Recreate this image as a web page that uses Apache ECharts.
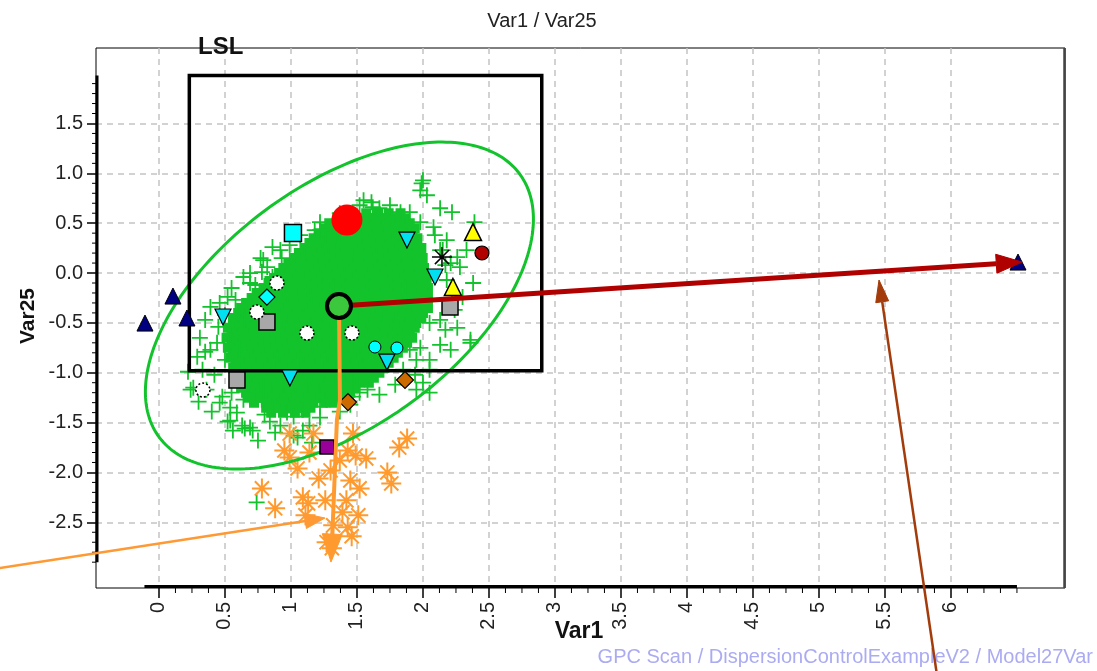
<!DOCTYPE html>
<html>
<head>
<meta charset="utf-8">
<title>Var1 / Var25</title>
<script src="https://cdn.jsdelivr.net/npm/echarts@6/dist/echarts.min.js"></script>
<style>
  html, body { margin: 0; padding: 0; background: #ffffff; }
  #chart { width: 1097px; height: 671px; }
</style>
</head>
<body>
<div id="chart"></div>
<script>
// ---- axis extents and tick labels ----
const X_RANGE = [-0.477, 6.864];
const Y_RANGE = [-3.159, 2.257];
const xTickValues = [0, 0.5, 1, 1.5, 2, 2.5, 3, 3.5, 4, 4.5, 5, 5.5, 6];
const yTickValues = [-2.5, -2, -1.5, -1, -0.5, 0, 0.5, 1, 1.5];
// extent of the observations, drawn as the heavy axis strokes
const xAxisSpan = [-0.11, 6.50];
const yAxisSpan = [-2.90, 1.98];
// minor tick spacing along each axis
const xMinorStep = 0.125;
const yMinorStep = 0.1;

// ---- specification box (LSL) : [x0, y0, x1, y1] ----
const lslBox = [0.23, -0.98, 2.90, 1.98];

// ---- confidence ellipse of the reference population ----
const ellipseCenter = [1.367, -0.326];
const ellipseAxes = [1.93, 1.06];
const ellipseAngleDeg = 50.85;

// ---- reference population: dense core, one row per Var25 level ----
const coreRows = [
  [0.55, [1.39, 1.47, 1.57, 1.66, 1.74, 1.83]],
  [0.45, [1.29, 1.38, 1.48, 1.56, 1.65, 1.75, 1.83, 1.90]],
  [0.35, [1.21, 1.30, 1.39, 1.47, 1.57, 1.66, 1.74, 1.84, 1.92]],
  [0.25, [1.14, 1.23, 1.31, 1.41, 1.50, 1.58, 1.68, 1.77, 1.86, 1.95]],
  [0.15, [1.06, 1.15, 1.24, 1.33, 1.41, 1.51, 1.60, 1.69, 1.78, 1.87, 1.96]],
  [0.05, [0.98, 1.07, 1.16, 1.25, 1.34, 1.43, 1.51, 1.61, 1.70, 1.79, 1.88, 1.97]],
  [-0.05, [0.91, 1.00, 1.09, 1.18, 1.27, 1.36, 1.45, 1.54, 1.63, 1.72, 1.81, 1.90, 1.99]],
  [-0.15, [0.83, 0.92, 1.01, 1.10, 1.19, 1.28, 1.37, 1.46, 1.55, 1.64, 1.73, 1.82, 1.91, 2.00]],
  [-0.25, [0.74, 0.83, 0.92, 1.01, 1.10, 1.19, 1.28, 1.37, 1.46, 1.55, 1.64, 1.73, 1.82, 1.91, 2.00]],
  [-0.35, [0.66, 0.75, 0.84, 0.93, 1.02, 1.11, 1.20, 1.29, 1.38, 1.47, 1.56, 1.65, 1.74, 1.83, 1.92, 2.00]],
  [-0.45, [0.60, 0.69, 0.78, 0.87, 0.96, 1.05, 1.14, 1.23, 1.32, 1.41, 1.50, 1.59, 1.68, 1.77, 1.86, 1.95]],
  [-0.55, [0.56, 0.65, 0.74, 0.83, 0.92, 1.01, 1.10, 1.19, 1.28, 1.37, 1.46, 1.55, 1.64, 1.73, 1.82, 1.90]],
  [-0.65, [0.55, 0.64, 0.73, 0.82, 0.91, 1.00, 1.09, 1.18, 1.27, 1.36, 1.45, 1.54, 1.63, 1.72, 1.81, 1.88]],
  [-0.75, [0.56, 0.65, 0.74, 0.83, 0.92, 1.01, 1.10, 1.19, 1.28, 1.37, 1.46, 1.55, 1.64, 1.73, 1.81]],
  [-0.85, [0.58, 0.67, 0.76, 0.85, 0.94, 1.03, 1.12, 1.21, 1.30, 1.39, 1.48, 1.57, 1.66, 1.74]],
  [-0.95, [0.60, 0.69, 0.78, 0.87, 0.96, 1.05, 1.14, 1.23, 1.32, 1.41, 1.50, 1.59, 1.67]],
  [-1.05, [0.62, 0.71, 0.80, 0.89, 0.98, 1.07, 1.16, 1.25, 1.34, 1.43, 1.52, 1.59]],
  [-1.15, [0.66, 0.75, 0.84, 0.93, 1.02, 1.11, 1.20, 1.29, 1.38, 1.45]],
  [-1.25, [0.72, 0.81, 0.90, 0.99, 1.08, 1.17, 1.26, 1.33]],
  [-1.35, [0.85, 0.94, 1.03, 1.11]]
];

// ---- reference population: scattered observations around the core ----
const clusterEdge = [
  [0.92,0.23],[1.18,0.43],[1.26,0.38],[0.77,0.15],[0.69,0.00],[0.82,0.06],[0.64,-0.04],[0.86,-0.04],
  [1.35,0.41],[1.99,0.90],[2.03,0.78],[1.61,0.71],[1.52,0.68],[1.67,0.65],[2.13,0.65],[2.22,0.61],
  [1.90,0.61],[2.39,0.51],[2.08,0.46],[2.18,0.33],[2.33,0.23],[2.26,0.16],[2.15,0.23],[2.21,0.10],
  [2.28,0.06],[2.38,-0.10],[2.30,-0.24],[2.36,-0.70],[2.21,-0.77],[2.05,-0.97],[2.00,-1.10],[1.90,-0.77],
  [1.85,-0.97],[0.39,-0.34],[0.29,-0.84],[0.33,-0.97],[0.44,-0.70],[0.52,-0.24],[0.79,0.13],[0.86,0.26],
  [1.55,0.73],[1.62,0.66],[1.22,0.43],[0.26,-1.15],[0.48,-1.24],[0.54,-1.35],[0.55,-1.20],[0.64,-1.27],
  [0.52,-1.49],[0.56,-1.58],[0.69,-1.55],[0.71,-1.58],[0.86,-1.34],[0.97,-1.40],[1.09,-1.37],[1.02,-1.44],
  [1.09,-1.58],[1.27,-1.27],[0.61,-0.77],[0.45,-0.54],[2.26,-0.55],[2.36,-0.67],[2.13,-0.47],[2.05,-0.50],
  [1.98,-0.75],[1.95,-0.87],[1.95,-1.17],[2.05,-1.20],[1.58,-1.17],[1.52,-1.20],[1.47,-1.10],[0.54,-1.48],
  [0.63,-1.53],[1.05,-1.65],[0.79,-1.17],[1.22,-1.34],[1.47,-1.24],[0.24,-1.17],[0.36,-1.17],[0.46,-1.30],
  [0.59,-1.40],[0.74,-2.30],[1.02,-1.63],[0.65,-1.56],[0.84,-1.49],[2.00,0.93],[1.98,0.83],
  [0.73,-0.12],[0.58,-0.27],[0.50,-0.42],[0.65,-0.47],[0.54,-0.62],[0.39,-0.77],[0.50,-0.87],[0.42,-1.02],
  [0.69,-1.12],[0.80,-1.42],[0.92,-1.53],[1.14,-1.53],[1.22,-1.45],[1.37,-1.39],[1.45,-1.32],[1.67,-1.22],
  [1.79,-1.12],[1.94,-1.02],[2.05,-0.87],[2.13,-0.72],[2.17,-0.57],[2.24,-0.37],[2.22,-0.22],[2.18,-0.07],
  [2.17,0.08],[2.13,0.23],[2.09,0.38],[1.98,0.51],[1.83,0.61],[1.75,0.68],[1.37,0.60],[1.22,0.51],
  [1.07,0.38],[0.99,0.28],[0.93,0.15],[0.78,0.01],[0.69,-0.10],[0.55,-0.15],[0.46,-0.30],[0.35,-0.47],
  [0.31,-0.65],[0.35,-0.79],[0.22,-0.99],[0.30,-1.29],[0.40,-1.39],[0.75,-1.68],[0.88,-1.60],[1.16,-1.70]
];

// ---- drifted batch (orange asterisks) ----
const driftBatch = [
  [0.99,-1.61],[1.17,-1.61],[1.47,-1.61],[1.88,-1.66],[1.82,-1.75],[0.95,-1.78],[0.99,-1.85],[1.14,-1.80],
  [1.43,-1.78],[1.49,-1.83],[1.57,-1.86],[1.05,-1.96],[1.73,-2.00],[1.76,-2.11],[1.21,-2.06],[1.45,-2.08],
  [1.52,-2.16],[0.78,-2.16],[1.09,-2.25],[1.13,-2.31],[1.26,-2.28],[1.42,-2.28],[0.88,-2.36],[1.51,-2.43],
  [1.43,-2.55],[1.46,-2.64],[1.27,-2.70],[1.31,-2.76],[1.37,-1.88],[1.30,-1.98],[1.11,-2.43],[1.39,-2.40],
  [1.32,-2.53]
];

// ---- individual labelled observations ----
const cyanSquares = [[1.015, 0.401]];
const cyanDownTriangles = [[1.879, 0.331], [2.091, -0.040], [0.485, -0.441], [0.992, -1.053], [1.727, -0.893]];
const yellowTriangles = [[2.379, 0.411], [2.227, -0.140]];
const darkRedCircles = [[2.447, 0.201]];
const blackStars = [[2.144, 0.160]];
const graySquares = [[2.205, -0.341], [0.818, -0.491], [0.591, -1.073]];
const navyTriangles = [[0.106, -0.231], [-0.106, -0.502], [0.212, -0.451], [6.508, 0.110]];
const whiteCircles = [[0.894, -0.100], [0.742, -0.391], [1.121, -0.602], [1.462, -0.602], [0.333, -1.174]];
const cyanDiamonds = [[0.818, -0.241]];
const cyanCircles = [[1.636, -0.742], [1.803, -0.752]];
const brownDiamonds = [[1.864, -1.073], [1.432, -1.294]];
const purpleSquares = [[1.273, -1.745]];
const targetPoint = [[1.424, 0.532]];
const populationMean = [[1.364, -0.331]];

// ---- trajectories from the population mean ----
const redTrajectory = [[1.364, -0.331], [6.54, 0.11]];
const orangeTrajectory = [[1.364, -0.331], [1.371, -1.274], [1.348, -1.474], [1.318, -2.477], [1.303, -2.899]];

// ---- call-out arrows ----
const orangeCallout = [[-1.205, -2.959], [1.258, -2.457]];
const brownCallout = [[5.894, -4.032], [5.455, -0.070]];

// ---- drawing ----
const GREEN = '#12c32c';
const ORANGE = '#ff9a2e';
const FONT = "'Liberation Sans', Arial, sans-serif";
const CROSS = 'path://M0,-10L0,10M-10,0L10,0';
const STAR = 'path://M0,-10L0,10M-10,0L10,0M-7.07,-7.07L7.07,7.07M-7.07,7.07L7.07,-7.07';

const corePoints = [];
coreRows.forEach(([y, xs]) => xs.forEach(x => corePoints.push([x, y])));

// minor tick positions inside the heavy axis spans (major positions excluded)
function minorTicks(span, step, majors) {
  const out = [];
  const k0 = Math.ceil(span[0] / step - 1e-9), k1 = Math.floor(span[1] / step + 1e-9);
  for (let k = k0; k <= k1; k++) {
    const v = +(k * step).toFixed(4);
    if (!majors.some(m => Math.abs(m - v) < 1e-6)) out.push(v);
  }
  return out;
}
const xMinorTicks = minorTicks([0, xAxisSpan[1]], xMinorStep, xTickValues);
const yMinorTicks = minorTicks(yAxisSpan, yMinorStep, yTickValues);

function markers(data, symbol, size, fill, stroke, strokeWidth, z, extra) {
  return Object.assign({
    type: 'scatter', data, symbol, symbolSize: size, z, silent: true,
    itemStyle: { color: fill, borderColor: stroke, borderWidth: strokeWidth, opacity: 1 }
  }, extra || {});
}

function arrow(paths, color, width, headLen, headWidth, z) {
  return {
    type: 'custom', coordinateSystem: 'cartesian2d', silent: true, clip: false, z,
    data: paths.map(p => p[0]),
    renderItem: (params, api) => {
      const pts = paths[params.dataIndex].map(p => api.coord(p));
      const n = pts.length;
      const tip = pts[n - 1], prev = pts[n - 2];
      let dx = tip[0] - prev[0], dy = tip[1] - prev[1];
      const len = Math.hypot(dx, dy); dx /= len; dy /= len;
      const base = [tip[0] - dx * headLen, tip[1] - dy * headLen];
      const nx = -dy * headWidth / 2, ny = dx * headWidth / 2;
      return {
        type: 'group',
        children: [
          { type: 'polyline', shape: { points: pts.slice(0, n - 1).concat([base]) },
            style: { stroke: color, lineWidth: width, fill: null, lineJoin: 'round' } },
          { type: 'polygon', shape: { points: [tip, [base[0] + nx, base[1] + ny], [base[0] - nx, base[1] - ny]] },
            style: { fill: color, stroke: color, lineWidth: 1 } }
        ]
      };
    }
  };
}

const chart = echarts.init(document.getElementById('chart'), null, { renderer: 'canvas' });

const axisLabelStyle = { fontSize: 20, color: '#222', fontFamily: FONT };
const splitLineStyle = { show: true, lineStyle: { color: '#c4c4c4', type: [6, 5], width: 1.5 } };

chart.setOption({
  animation: false,
  backgroundColor: '#ffffff',
  grid: {
    left: 96, right: 32, top: 48, bottom: 83,
    show: true, borderColor: '#000', borderWidth: 1, backgroundColor: '#fff',
    outerBoundsMode: 'none', containLabel: false
  },
  xAxis: {
    type: 'value', min: X_RANGE[0], max: X_RANGE[1], splitNumber: 14,
    axisLine: { show: false, onZero: false },
    axisTick: { show: true, customValues: xTickValues, length: 10, lineStyle: { color: '#000', width: 1.5 } },
    minorTick: { show: false },
    axisLabel: Object.assign({ customValues: xTickValues, rotate: 90, margin: 14 }, axisLabelStyle),
    splitLine: splitLineStyle
  },
  yAxis: {
    type: 'value', min: Y_RANGE[0], max: Y_RANGE[1], splitNumber: 11,
    axisLine: { show: false, onZero: false },
    axisTick: { show: true, customValues: yTickValues, length: 9, lineStyle: { color: '#000', width: 1.5 } },
    minorTick: { show: false },
    axisLabel: Object.assign({ customValues: yTickValues, margin: 13, formatter: v => v.toFixed(1) }, axisLabelStyle),
    splitLine: splitLineStyle
  },
  graphic: [
    { type: 'text', x: 542, y: 21, silent: true,
      style: { text: 'Var1 / Var25', align: 'center', verticalAlign: 'middle', font: '20px ' + FONT, fill: '#222' } },
    { type: 'text', x: 198, y: 47, silent: true, z: 100,
      style: { text: 'LSL', align: 'left', verticalAlign: 'middle', font: 'bold 24px ' + FONT, fill: '#111' } },
    { type: 'text', x: 28, y: 316, rotation: Math.PI / 2, silent: true,
      style: { text: 'Var25', align: 'center', verticalAlign: 'middle', font: 'bold 21px ' + FONT, fill: '#111' } },
    { type: 'text', x: 579, y: 632, silent: true,
      style: { text: 'Var1', align: 'center', verticalAlign: 'middle', font: 'bold 23px ' + FONT, fill: '#111' } },
    { type: 'text', x: 1093, y: 657, silent: true,
      style: { text: 'GPC Scan / DispersionControlExampleV2 / Model27Var', align: 'right', verticalAlign: 'middle',
               font: '20px ' + FONT, fill: '#ababf2' } }
  ],
  series: [
    // reference population
    markers(corePoints, CROSS, 20, 'rgba(0,0,0,0)', GREEN, 10, 2),
    markers(clusterEdge, CROSS, 16, 'rgba(0,0,0,0)', GREEN, 1.8, 2),
    // drifted batch
    markers(driftBatch, STAR, 20, 'rgba(0,0,0,0)', ORANGE, 2, 3),
    // confidence ellipse
    {
      type: 'custom', coordinateSystem: 'cartesian2d', silent: true, z: 4,
      data: [ellipseCenter],
      renderItem: (params, api) => {
        const [cx, cy] = ellipseCenter, [a, b] = ellipseAxes;
        const th = ellipseAngleDeg * Math.PI / 180;
        const pts = [];
        for (let i = 0; i < 240; i++) {
          const t = i / 240 * 2 * Math.PI;
          pts.push(api.coord([
            cx + a * Math.cos(th) * Math.cos(t) - b * Math.sin(th) * Math.sin(t),
            cy + a * Math.sin(th) * Math.cos(t) + b * Math.cos(th) * Math.sin(t)
          ]));
        }
        return { type: 'polygon', shape: { points: pts }, style: { fill: null, stroke: GREEN, lineWidth: 3 } };
      }
    },
    // LSL box, heavy axis strokes, minor ticks and right frame edge
    {
      type: 'custom', coordinateSystem: 'cartesian2d', silent: true, clip: false, z: 5,
      data: [[lslBox[0], lslBox[1]]],
      renderItem: (params, api) => {
        const p0 = api.coord([lslBox[0], lslBox[1]]), p1 = api.coord([lslBox[2], lslBox[3]]);
        const ax0 = api.coord([X_RANGE[0], yAxisSpan[0]]), ax1 = api.coord([X_RANGE[0], yAxisSpan[1]]);
        const bx0 = api.coord([xAxisSpan[0], Y_RANGE[0]]), bx1 = api.coord([xAxisSpan[1], Y_RANGE[0]]);
        const r0 = api.coord([X_RANGE[1], Y_RANGE[0]]), r1 = api.coord([X_RANGE[1], Y_RANGE[1]]);
        const children = [
          { type: 'polygon', shape: { points: [[p0[0], p0[1]], [p1[0], p0[1]], [p1[0], p1[1]], [p0[0], p1[1]]] },
            style: { fill: null, stroke: '#000', lineWidth: 3.5 } },
          { type: 'line', shape: { x1: ax0[0] + 1, y1: ax0[1], x2: ax1[0] + 1, y2: ax1[1] },
            style: { stroke: '#000', lineWidth: 3 } },
          { type: 'line', shape: { x1: bx0[0], y1: bx0[1] - 1.5, x2: bx1[0], y2: bx1[1] - 1.5 },
            style: { stroke: '#000', lineWidth: 3 } },
          { type: 'line', shape: { x1: r0[0] - 0.5, y1: r0[1], x2: r1[0] - 0.5, y2: r1[1] },
            style: { stroke: '#444', lineWidth: 2.5 } }
        ];
        xMinorTicks.forEach(v => {
          const p = api.coord([v, Y_RANGE[0]]);
          children.push({ type: 'line', shape: { x1: p[0], y1: p[1], x2: p[0], y2: p[1] + 5 },
            style: { stroke: '#000', lineWidth: 1 } });
        });
        yMinorTicks.forEach(v => {
          const p = api.coord([X_RANGE[0], v]);
          children.push({ type: 'line', shape: { x1: p[0], y1: p[1], x2: p[0] - 4, y2: p[1] },
            style: { stroke: '#000', lineWidth: 1 } });
        });
        return { type: 'group', children };
      }
    },
    // labelled observations
    markers(cyanSquares, 'rect', 17, '#00ffff', '#000', 1.5, 6),
    markers(cyanDownTriangles, 'triangle', 16, '#00e0f0', '#000', 1.2, 6, { symbolRotate: 180 }),
    markers(yellowTriangles, 'triangle', 17, '#ffff00', '#000', 1.5, 6),
    markers(darkRedCircles, 'circle', 14, '#b00000', '#000', 1.2, 6),
    markers(blackStars, STAR, 20, 'rgba(0,0,0,0)', '#000', 1.5, 6),
    markers(graySquares, 'rect', 16, '#a8a8a8', '#000', 1.5, 6),
    markers(navyTriangles, 'triangle', 16, '#000080', '#000', 1, 6),
    markers(whiteCircles, 'circle', 14, '#ffffff', '#000', 1.5, 6, {
      itemStyle: { color: '#ffffff', borderColor: '#000', borderWidth: 1.5, borderType: [2, 2], opacity: 1 } }),
    markers(cyanDiamonds, 'diamond', 16, '#00ffff', '#000', 1.2, 6),
    markers(cyanCircles, 'circle', 12, '#00ffff', '#000', 1, 6),
    markers(brownDiamonds, 'diamond', 17, '#cc6a00', '#000', 1.2, 6),
    markers(purpleSquares, 'rect', 14, '#990099', '#000', 1.5, 6),
    markers(targetPoint, 'circle', 31, '#ff0000', '#ff0000', 0, 6),
    // trajectories
    arrow([orangeTrajectory], ORANGE, 4, 28, 20, 7),
    arrow([redTrajectory], '#b00000', 5, 26, 19, 7),
    // population mean
    markers(populationMean, 'circle', 24, '#3cc83c', '#000', 4, 8),
    // call-outs
    arrow([orangeCallout], '#ff9933', 2.5, 20, 15, 9),
    arrow([brownCallout], '#a33c0a', 2.5, 22, 13, 9)
  ]
});
</script>
</body>
</html>
